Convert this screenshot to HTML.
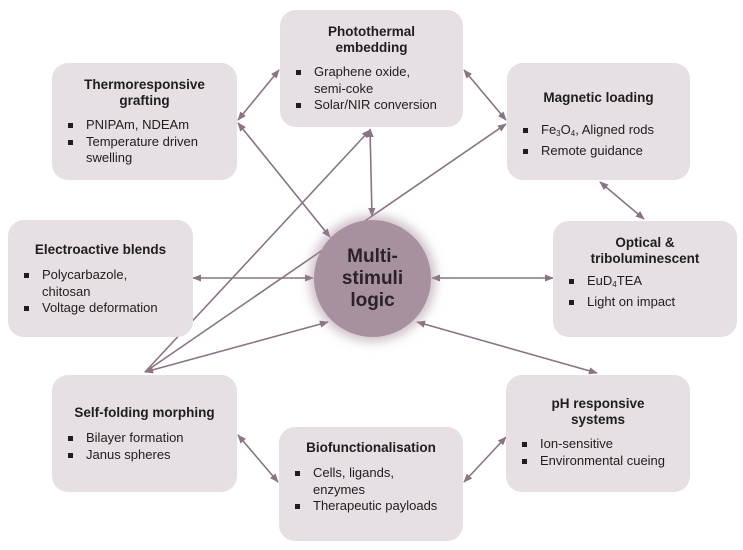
<!DOCTYPE html>
<html><head><meta charset="utf-8"><style>
body{margin:0;width:743px;height:550px;background:#fff;position:relative;overflow:hidden;font-family:"Liberation Sans",Arial,sans-serif;color:#1e1e1e}
.b{position:absolute;background:#e6dfe3;border-radius:16px;box-sizing:border-box;padding:0 8px}
.t{font-weight:bold;font-size:13.5px;text-align:center;line-height:16px}
ul{margin:8px 0 0 0;padding:0 0 0 26px;list-style:none;font-size:13px;line-height:16.5px}
li{position:relative}
li:before{content:"";position:absolute;left:-18px;top:6px;width:5px;height:5px;background:#1e1e1e}
svg{position:absolute;left:0;top:0}
.c{position:absolute;left:314px;top:220px;width:117px;height:117px;border-radius:50%;background:#a8919f;box-shadow:0 0 10px 5px rgba(168,145,159,0.55);display:flex;align-items:center;justify-content:center;text-align:center;font-weight:bold;font-size:19px;line-height:22px;color:#2a2228}
sub{font-size:8px;vertical-align:-2px}
</style></head><body>
<svg width="743" height="550">
<defs><marker id="a" viewBox="0 0 10 10" refX="9" refY="5" markerWidth="9" markerHeight="9" orient="auto-start-reverse" markerUnits="userSpaceOnUse"><path d="M0,1 L10,5 L0,9 Z" fill="#8a7385"/></marker></defs>
<g stroke="#8a7385" stroke-width="1.6" fill="none">
<line x1="238" y1="120" x2="279" y2="70" marker-start="url(#a)" marker-end="url(#a)"/>
<line x1="238" y1="123" x2="330" y2="237" marker-start="url(#a)" marker-end="url(#a)"/>
<line x1="370" y1="129" x2="372" y2="216" marker-start="url(#a)" marker-end="url(#a)"/>
<line x1="145" y1="372" x2="370" y2="130" marker-end="url(#a)"/>
<line x1="145" y1="372" x2="506" y2="124" marker-end="url(#a)"/>
<line x1="145" y1="372" x2="328" y2="322" marker-start="url(#a)" marker-end="url(#a)"/>
<line x1="464" y1="70" x2="506" y2="120" marker-start="url(#a)" marker-end="url(#a)"/>
<line x1="193" y1="278" x2="313" y2="278" marker-start="url(#a)" marker-end="url(#a)"/>
<line x1="432" y1="278" x2="553" y2="278" marker-start="url(#a)" marker-end="url(#a)"/>
<line x1="600" y1="182" x2="644" y2="219" marker-start="url(#a)" marker-end="url(#a)"/>
<line x1="417" y1="322" x2="597" y2="373" marker-start="url(#a)" marker-end="url(#a)"/>
<line x1="238" y1="435" x2="278" y2="482" marker-start="url(#a)" marker-end="url(#a)"/>
<line x1="506" y1="437" x2="464" y2="482" marker-start="url(#a)" marker-end="url(#a)"/>
</g></svg>

<div class="b" style="left:280px;top:10px;width:183px;height:117px;padding-top:14px"><div class="t">Photothermal<br>embedding</div><ul><li>Graphene oxide,<br>semi-coke</li><li>Solar/NIR conversion</li></ul></div>

<div class="b" style="left:52px;top:63px;width:185px;height:117px;padding-top:14px"><div class="t">Thermoresponsive<br>grafting</div><ul style="margin-top:8px"><li>PNIPAm, NDEAm</li><li>Temperature driven<br>swelling</li></ul></div>

<div class="b" style="left:507px;top:63px;width:183px;height:117px;padding-top:27px"><div class="t">Magnetic loading</div><ul style="margin-top:16px"><li>Fe<sub>3</sub>O<sub>4</sub>, Aligned rods</li><li>Remote guidance</li></ul></div>

<div class="b" style="left:8px;top:220px;width:185px;height:117px;padding-top:22px"><div class="t">Electroactive blends</div><ul style="margin-top:9px"><li>Polycarbazole,<br>chitosan</li><li>Voltage deformation</li></ul></div>

<div class="b" style="left:553px;top:221px;width:184px;height:116px;padding-top:14px"><div class="t">Optical &amp;<br>triboluminescent</div><ul style="margin-top:6px"><li>EuD<sub>4</sub>TEA</li><li>Light on impact</li></ul></div>

<div class="b" style="left:52px;top:375px;width:185px;height:117px;padding-top:30px"><div class="t">Self-folding morphing</div><ul style="margin-top:9px"><li>Bilayer formation</li><li>Janus spheres</li></ul></div>

<div class="b" style="left:279px;top:427px;width:184px;height:114px;padding-top:13px"><div class="t">Biofunctionalisation</div><ul style="margin-top:9px"><li>Cells, ligands,<br>enzymes</li><li>Therapeutic payloads</li></ul></div>

<div class="b" style="left:506px;top:375px;width:184px;height:117px;padding-top:21px"><div class="t">pH responsive<br>systems</div><ul style="margin-top:8px"><li>Ion-sensitive</li><li>Environmental cueing</li></ul></div>

<div class="c">Multi-<br>stimuli<br>logic</div>
</body></html>
